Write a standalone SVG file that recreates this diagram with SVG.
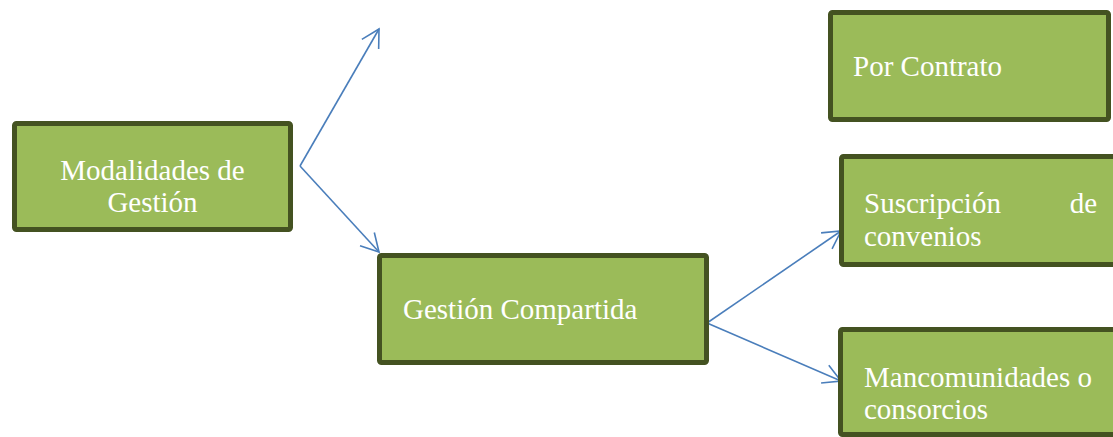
<svg xmlns="http://www.w3.org/2000/svg" width="1113" height="437" viewBox="0 0 1113 437">
  <style>
    .box { fill: #9bbb59; stroke: #445221; stroke-width: 5; }
    .lbl { font-family: "Liberation Serif", "Times New Roman", serif; font-size: 29px; fill: #ffffff; }
    .conn { fill: none; stroke: #4a7ebb; stroke-width: 1.6; }
  </style>
  <defs>
    <marker id="arr" markerUnits="userSpaceOnUse" viewBox="-20 -12 22 24" markerWidth="22" markerHeight="24" refX="0" refY="0" orient="auto">
      <path d="M-17.5,-9.7 L0,0 L-17.5,9.7" fill="none" stroke="#4a7ebb" stroke-width="1.6"/>
    </marker>
  </defs>
  <rect width="1113" height="437" fill="#ffffff"/>

  <g id="connectors">
    <line class="conn" x1="300" y1="166" x2="379" y2="29" marker-end="url(#arr)"/>
    <line class="conn" x1="300" y1="166" x2="379" y2="252" marker-end="url(#arr)"/>
    <line class="conn" x1="707" y1="323" x2="841" y2="231" marker-end="url(#arr)"/>
    <line class="conn" x1="707" y1="323" x2="841" y2="381" marker-end="url(#arr)"/>
  </g>

  <g id="node-modalidades">
    <rect class="box" x="14.5" y="123.5" width="276" height="106" rx="2"/>
    <text class="lbl" x="152.5" y="180" text-anchor="middle">Modalidades de</text>
    <text class="lbl" x="152.5" y="212" text-anchor="middle">Gestión</text>
  </g>

  <g id="node-por-contrato">
    <rect class="box" x="830.5" y="12.5" width="278" height="107" rx="2"/>
    <text class="lbl" x="853" y="76">Por Contrato</text>
  </g>

  <g id="node-suscripcion">
    <rect class="box" x="841.5" y="156.5" width="290" height="108" rx="2"/>
    <text class="lbl" x="864" y="213">Suscripción</text>
    <text class="lbl" x="1097" y="213" text-anchor="end">de</text>
    <text class="lbl" x="864" y="246">convenios</text>
  </g>

  <g id="node-gestion-compartida">
    <rect class="box" x="379.5" y="255.5" width="327" height="107" rx="2"/>
    <text class="lbl" x="403" y="319">Gestión Compartida</text>
  </g>

  <g id="node-mancomunidades">
    <rect class="box" x="840.5" y="329.5" width="290" height="105" rx="2"/>
    <text class="lbl" x="864" y="387">Mancomunidades o</text>
    <text class="lbl" x="864" y="419">consorcios</text>
  </g>
</svg>
